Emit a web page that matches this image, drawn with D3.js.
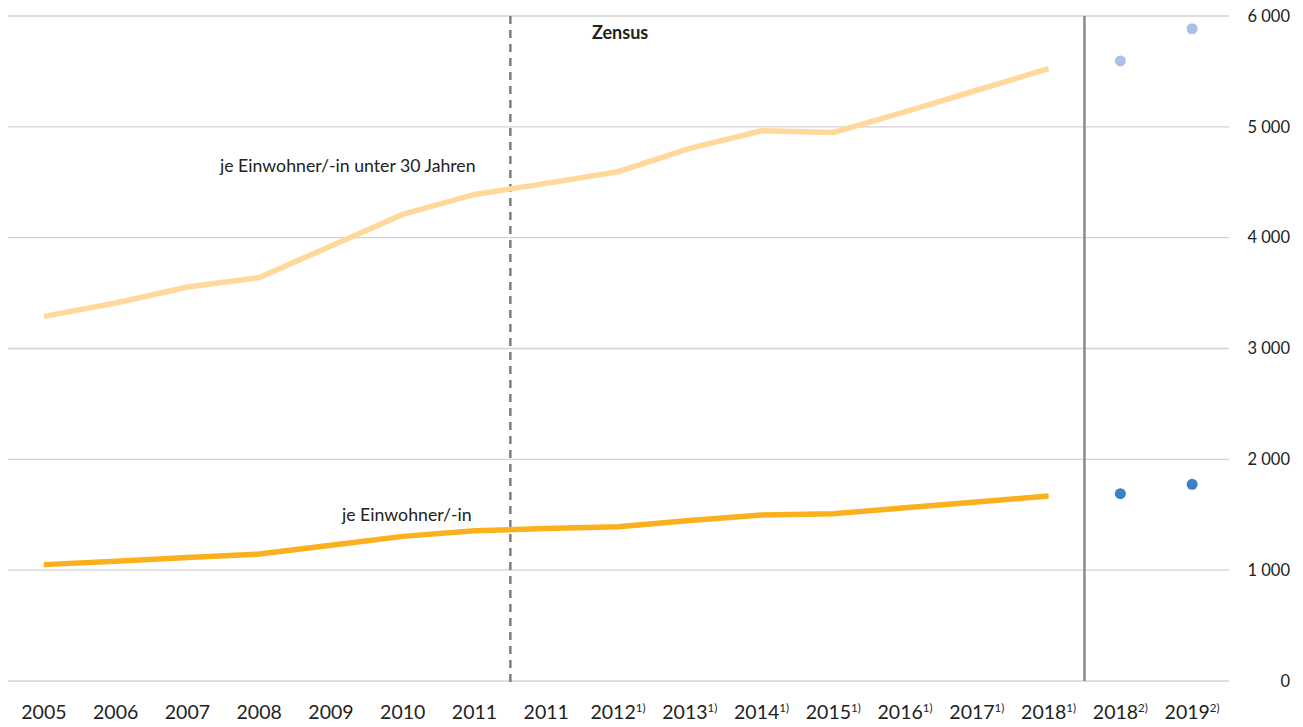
<!DOCTYPE html>
<html lang="de">
<head>
<meta charset="utf-8">
<title>Ausgaben je Einwohner/-in</title>
<script src="https://cdn.jsdelivr.net/npm/d3@7"></script>
<style>
  html, body { margin: 0; padding: 0; background: #ffffff; }
  svg { display: block; font-family: Lato, "Open Sans", sans-serif; }
</style>
</head>
<body>
<svg id="chart" width="1303" height="727"></svg>
<script>
// Category labels along the x axis, with their footnote markers
const years = ["2005","2006","2007","2008","2009","2010","2011","2011","2012","2013","2014","2015","2016","2017","2018","2018","2019"];
const notes = ["","","","","","","","","1)","1)","1)","1)","1)","1)","1)","2)","2)"];

// Line series (first 15 categories)
const perResident      = [1050, 1080, 1115, 1145, 1225, 1305, 1355, 1375, 1392, 1448, 1498, 1508, 1563, 1615, 1670];
const perResidentUnder30 = [3290, 3410, 3555, 3640, 3925, 4210, 4390, 4490, 4595, 4805, 4965, 4950, 5135, 5330, 5525];

// Separate points for the last two categories (new method)
const dotIndex          = [15, 16];
const dotsPerResident   = [1690, 1775];
const dotsUnder30       = [5595, 5885];

// Y axis ticks
const yTicks = [0, 1000, 2000, 3000, 4000, 5000, 6000];

// Annotation labels
const labelUnder30 = "je Einwohner/-in unter 30 Jahren";
const labelAll     = "je Einwohner/-in";
const labelCensus  = "Zensus";

const svg = d3.select("#chart");

const x = d3.scaleBand().domain(d3.range(years.length)).range([8, 1228]);
const cx = i => x(i) + x.bandwidth() / 2;
const y = d3.scaleLinear().domain([0, 6000]).range([681, 16]);

const de = d3.formatLocale({ decimal: ",", thousands: " ", grouping: [3], currency: ["", " €"] });
const fmt = de.format(",d");

// Horizontal gridlines
svg.append("g")
  .selectAll("line")
  .data(yTicks)
  .join("line")
  .attr("x1", 8).attr("x2", 1229)
  .attr("y1", d => y(d)).attr("y2", d => y(d))
  .attr("stroke", "#d3d3d3")
  .attr("stroke-width", 1.4);

// Y axis labels on the right
const yAxis = svg.append("g")
  .attr("transform", "translate(1290,0)")
  .call(d3.axisLeft(y).tickValues(yTicks).tickSize(0).tickPadding(0).tickFormat(fmt));
yAxis.select(".domain").remove();
yAxis.selectAll("text")
  .attr("font-family", "Lato, 'Open Sans', sans-serif")
  .attr("font-size", 16.5)
  .attr("fill", "#222");

// X axis labels with superscript footnotes
const xAxis = svg.append("g")
  .attr("transform", "translate(0,681)")
  .call(d3.axisBottom(x).tickSize(0).tickPadding(0).tickFormat(() => ""));
xAxis.select(".domain").remove();
xAxis.selectAll(".tick text")
  .attr("y", 38)
  .attr("dy", null)
  .attr("font-family", "Lato, 'Open Sans', sans-serif")
  .attr("font-size", 19.5)
  .attr("fill", "#222")
  .each(function (i) {
    const t = d3.select(this);
    t.append("tspan").text(years[i]);
    if (notes[i]) {
      t.append("tspan")
        .attr("font-size", 11.5)
        .attr("dy", -7)
        .text(notes[i]);
    }
  });

// Census break (dashed) and method break (solid)
const censusX = x(7);
svg.append("line")
  .attr("x1", censusX).attr("x2", censusX)
  .attr("y1", y(6000)).attr("y2", y(0) + 2)
  .attr("stroke", "#7f7f7f")
  .attr("stroke-width", 2.5)
  .attr("stroke-dasharray", "8,6");

const methodX = x(15);
svg.append("line")
  .attr("x1", methodX).attr("x2", methodX)
  .attr("y1", y(6000)).attr("y2", y(0))
  .attr("stroke", "#8a8a8a")
  .attr("stroke-width", 2.5);

// Lines
const line = d3.line().x((d, i) => cx(i)).y(d => y(d));

svg.append("path")
  .datum(perResidentUnder30)
  .attr("d", line)
  .attr("fill", "none")
  .attr("stroke", "#ffd99c")
  .attr("stroke-width", 5.5);

svg.append("path")
  .datum(perResident)
  .attr("d", line)
  .attr("fill", "none")
  .attr("stroke", "#fbb01e")
  .attr("stroke-width", 5.5);

// Points
svg.append("g")
  .selectAll("circle")
  .data(dotsUnder30)
  .join("circle")
  .attr("cx", (d, i) => cx(dotIndex[i]))
  .attr("cy", d => y(d))
  .attr("r", 5.5)
  .attr("fill", "#a9c1e7");

svg.append("g")
  .selectAll("circle")
  .data(dotsPerResident)
  .join("circle")
  .attr("cx", (d, i) => cx(dotIndex[i]))
  .attr("cy", d => y(d))
  .attr("r", 5.5)
  .attr("fill", "#3b7fc6");

// Annotations
svg.append("text")
  .attr("x", 220).attr("y", 172)
  .attr("font-size", 17.7)
  .attr("fill", "#222")
  .text(labelUnder30);

svg.append("text")
  .attr("x", 342).attr("y", 521)
  .attr("font-size", 17.7)
  .attr("fill", "#222")
  .text(labelAll);

svg.append("text")
  .attr("x", 592).attr("y", 39)
  .attr("font-size", 18)
  .attr("font-weight", "bold")
  .attr("fill", "#222")
  .text(labelCensus);
</script>
</body>
</html>
